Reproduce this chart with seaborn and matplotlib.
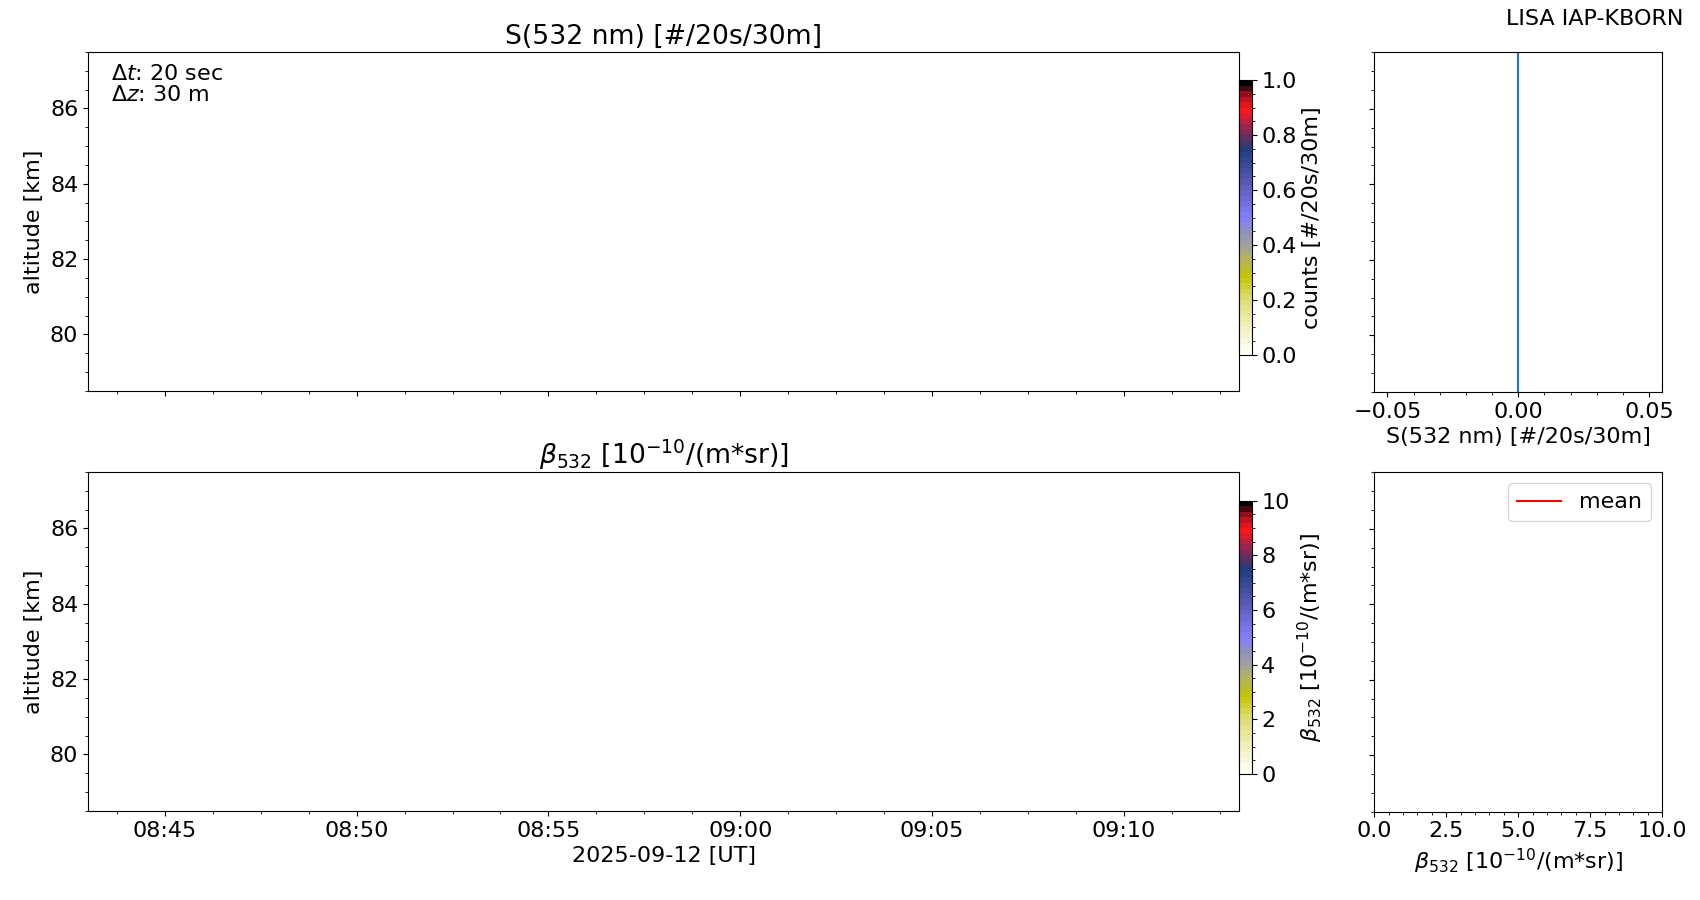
import numpy as np
import pandas as pd
import matplotlib
matplotlib.use("Agg")
import matplotlib.pyplot as plt
import matplotlib.dates as mdates
from matplotlib.colors import LinearSegmentedColormap
import seaborn as sns

# --- data (no signal in this time window) ---
t_start = "2025-09-12 08:43:00"
t_end = "2025-09-12 09:13:00"
dt_sec = 20
dz_m = 30
alt_min_km = 78.5
alt_max_km = 87.5

times = pd.date_range(t_start, t_end, freq=f"{dt_sec}s")
altitude = np.arange(alt_min_km, alt_max_km + 1e-9, dz_m / 1000.0)

# photon counts and backscatter are empty (masked) everywhere
signal = np.full((len(altitude), len(times)), np.nan)
beta = np.full((len(altitude), len(times)), np.nan)
signal_profile = np.zeros(len(altitude))          # summed counts -> 0
beta_mean = np.full(len(altitude), np.nan)         # mean beta -> nothing valid

# colour table of the lidar plots
cmap_pos = [0.0, 0.1, 0.2, 0.28, 0.35, 0.4, 0.45, 0.5, 0.62, 0.75, 0.8, 0.85, 0.9, 0.95, 1.0]
cmap_col = ["#fffff4", "#efefb8", "#dcdc70", "#c4c400", "#b4b460", "#a0a0a0", "#9090c0",
            "#8080ff", "#5c5cb8", "#1f3f7f", "#603060", "#b02048", "#ff1818", "#b01020", "#000000"]
lisa_cmap = LinearSegmentedColormap.from_list("lisa", list(zip(cmap_pos, cmap_col)), N=50)

plt.rcParams["font.size"] = 16
plt.rcParams["font.family"] = ["DejaVu Sans"]

fig = plt.figure(figsize=(17, 9), dpi=100)
ax_s = fig.add_axes([0.0518, 0.5656, 0.6770, 0.3767])
ax_b = fig.add_axes([0.0518, 0.0989, 0.6770, 0.3767], sharex=ax_s, sharey=ax_s)
cax_s = fig.add_axes([0.7290, 0.6056, 0.0073, 0.3054])
cax_b = fig.add_axes([0.7290, 0.1400, 0.0073, 0.3037])
ax_sp = fig.add_axes([0.8084, 0.5645, 0.1694, 0.3775], sharey=ax_s)
ax_bp = fig.add_axes([0.8084, 0.0981, 0.1694, 0.3771], sharey=ax_s)

# --- main panels ---
m1 = ax_s.pcolormesh(times, altitude, signal, cmap=lisa_cmap, vmin=0, vmax=1, shading="nearest")
m2 = ax_b.pcolormesh(times, altitude, beta, cmap=lisa_cmap, vmin=0, vmax=10, shading="nearest")

cb1 = fig.colorbar(m1, cax=cax_s)
cb1.set_label("counts [#/20s/30m]")
cb1.set_ticks([0, 0.2, 0.4, 0.6, 0.8, 1.0])
cb1.minorticks_on()
cb2 = fig.colorbar(m2, cax=cax_b)
cb2.set_label(r"$\beta_{532}$ [$10^{-10}$/(m*sr)]")
cb2.set_ticks([0, 2, 4, 6, 8, 10])
cb2.minorticks_on()

ax_s.set_title("S(532 nm) [#/20s/30m]", fontsize="large")
ax_b.set_title(r"$\beta_{532}$ [$10^{-10}$/(m*sr)]", fontsize="large")
for ax in (ax_s, ax_b):
    ax.set_ylabel("altitude [km]")
    ax.set_ylim(alt_min_km, alt_max_km)
    ax.set_xlim(pd.Timestamp(t_start), pd.Timestamp(t_end))
    ax.xaxis.set_major_locator(mdates.MinuteLocator(byminute=range(0, 60, 5)))
    ax.xaxis.set_major_formatter(mdates.DateFormatter("%H:%M"))
    ax.minorticks_on()
ax_s.tick_params(labelbottom=False)
ax_b.set_xlabel("2025-09-12 [UT]")
ax_s.text(0.02, 0.965, "$\\Delta t$: 20 sec\n$\\Delta z$: 30 m", transform=ax_s.transAxes,
          va="top", ha="left", linespacing=1.1)

# --- profile panels ---
sns.lineplot(x=signal_profile, y=altitude, orient="y", ax=ax_sp, color="tab:blue", sort=False)
ax_sp.set_xlabel("S(532 nm) [#/20s/30m]")
ax_sp.set_ylabel("")
ax_sp.tick_params(labelleft=False)
ax_sp.minorticks_on()

ax_bp.plot(beta_mean, altitude, color="red", label="mean")
ax_bp.set_xlim(0, 10)
ax_bp.set_xlabel(r"$\beta_{532}$ [$10^{-10}$/(m*sr)]")
ax_bp.tick_params(labelleft=False)
ax_bp.minorticks_on()
ax_bp.legend(loc="upper right")
ax_s.set_ylim(alt_min_km, alt_max_km)

fig.text(0.99, 0.972, "LISA IAP-KBORN", ha="right", va="baseline")

fig.savefig("out.png", dpi=100)
